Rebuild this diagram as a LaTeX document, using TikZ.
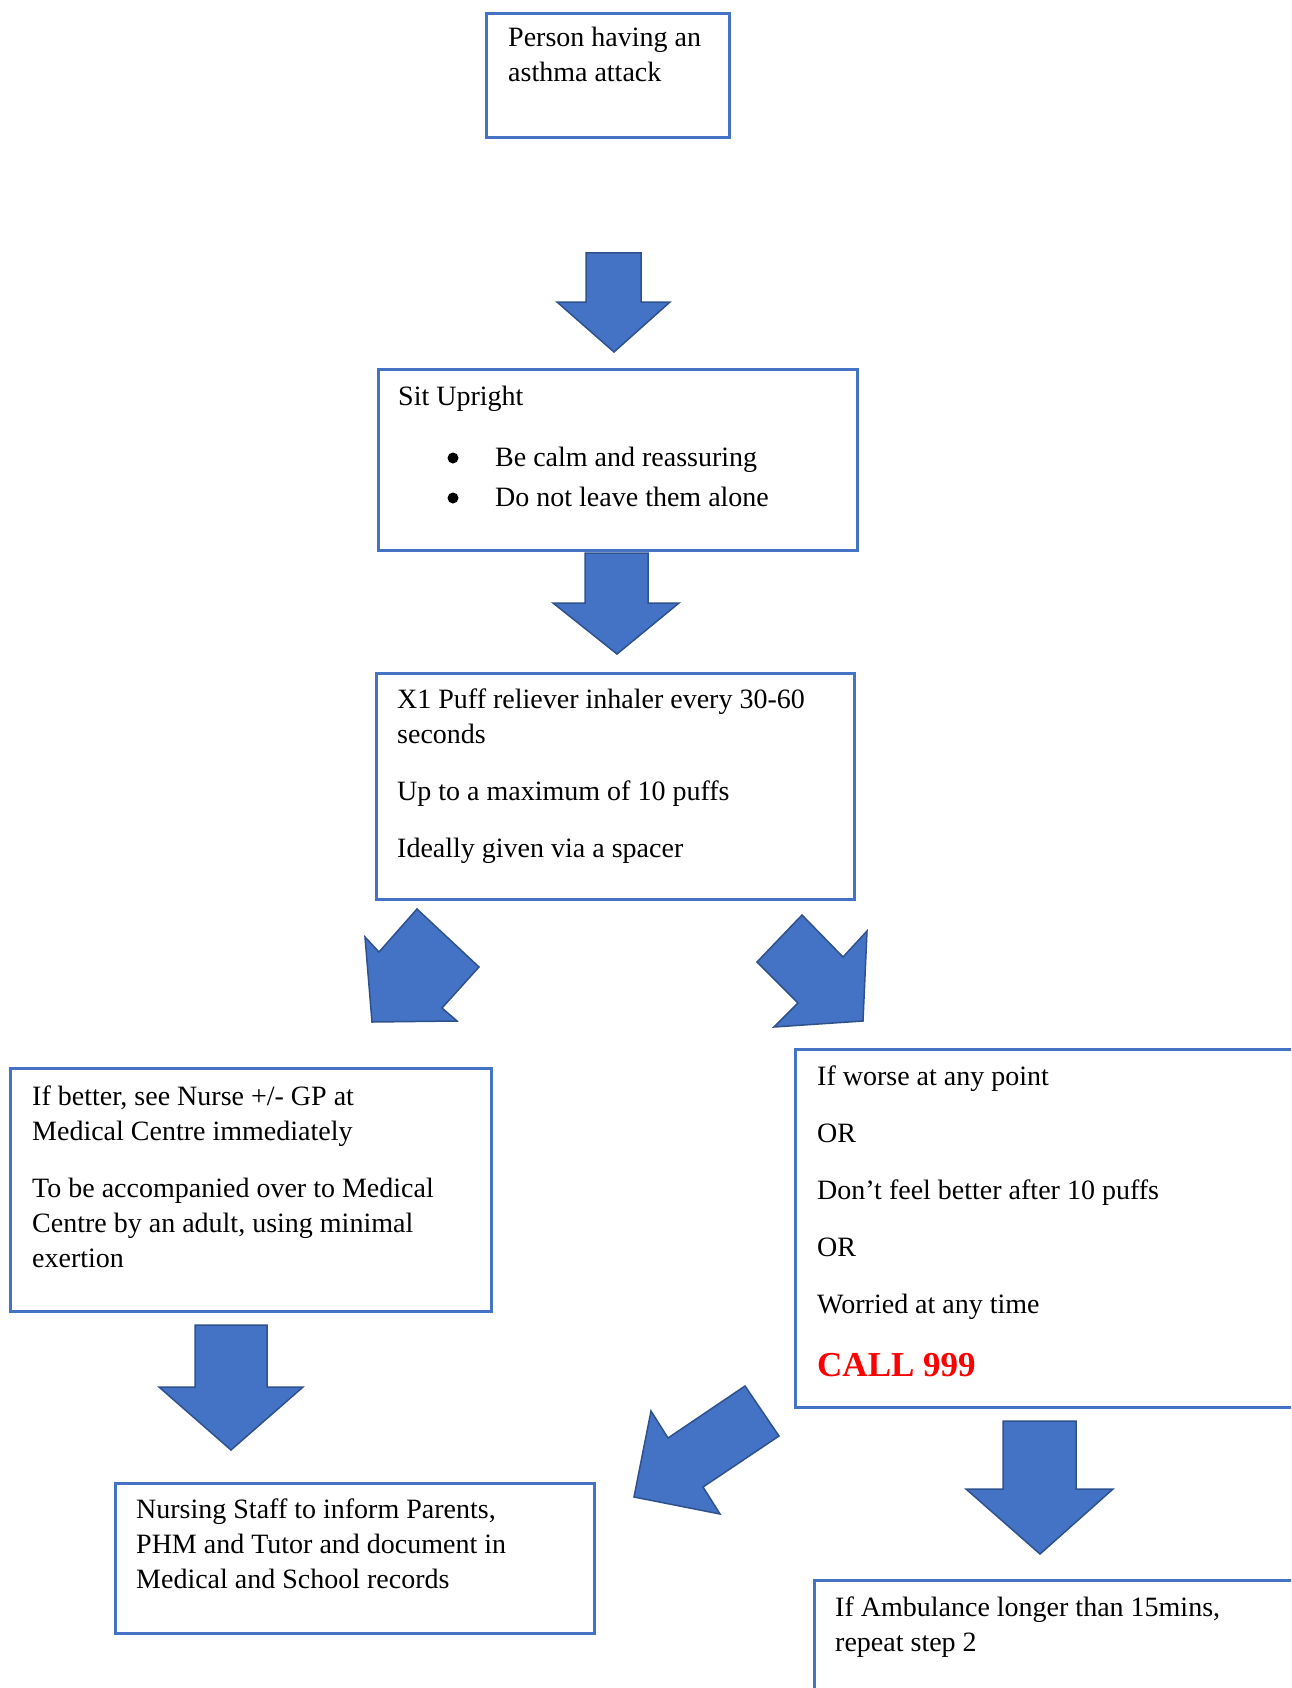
\documentclass[tikz,border=0pt]{standalone}
\usepackage{fontspec}
\setmainfont{Liberation Serif}
\usetikzlibrary{positioning}

\definecolor{boxblue}{HTML}{4472C4}
\definecolor{arrowedge}{HTML}{2F528F}
\definecolor{callred}{HTML}{FF0000}

\tikzset{
  stepbox/.style={draw=boxblue, line width=3pt, fill=white, inner sep=0pt, anchor=north west},
  steptext/.style={anchor=base west, align=left, inner sep=0pt, font=\fontsize{28}{35}\selectfont},
  blockarrow/.style={fill=boxblue, draw=arrowedge, line width=1.5pt, line join=miter},
  bulletdot/.style={circle, fill=black, inner sep=0pt, minimum size=11pt},
}

\begin{document}
\begin{tikzpicture}[x=1pt,y=-1pt]
  \useasboundingbox (0,0) rectangle (1291,1688);
  \clip (0,0) rectangle (1291,1688);
  \fill[white] (0,0) rectangle (1291,1688);

  % Step boxes
  \node[stepbox, minimum width=243, minimum height=124] (attack) at (485,12) {};
  \node[stepbox, minimum width=479, minimum height=181] (upright) at (377,368) {};
  \node[stepbox, minimum width=478, minimum height=226] (inhaler) at (375,672) {};
  \node[stepbox, minimum width=481, minimum height=243] (better) at (9,1067) {};
  \node[stepbox, minimum width=600, minimum height=358] (worse) at (794,1048) {};
  \node[stepbox, minimum width=479, minimum height=150] (inform) at (114,1482) {};
  \node[stepbox, minimum width=600, minimum height=200] (ambulance) at (813,1579) {};

  % Box texts (placed by the baseline of their last line)
  \node[steptext] (attacktext) at (508,82) {Person having an\\asthma attack};
  \node[steptext] (uprighttext) at (398,506) {Sit Upright\\[26pt]
    \hspace*{97pt}Be calm and reassuring\\[5pt]
    \hspace*{97pt}Do not leave them alone};
  \node[bulletdot] (bulleta) at (453,458) {};
  \node[bulletdot] (bulletb) at (453,498) {};
  \node[steptext] (inhalertext) at (397,857) {X1 Puff reliever inhaler every 30-60\\seconds\\[22pt]
    Up to a maximum of 10 puffs\\[22pt]Ideally given via a spacer};
  \node[steptext] (bettertext) at (32,1267) {If better, see Nurse +/- GP at\\Medical Centre immediately\\[22pt]
    To be accompanied over to Medical\\Centre by an adult, using minimal\\exertion};
  \node[steptext] (worsetext) at (817,1313) {If worse at any point\\[22pt]OR\\[22pt]
    Don’t feel better after 10 puffs\\[22pt]OR\\[22pt]Worried at any time};
  \node[steptext, font=\bfseries\fontsize{35}{42}\selectfont, text=callred] (call) at (817,1376) {CALL 999};
  \node[steptext] (informtext) at (136,1588) {Nursing Staff to inform Parents,\\PHM and Tutor and document in\\Medical and School records};
  \node[steptext] (ambulancetext) at (835,1651) {If Ambulance longer than 15mins,\\repeat step 2};

  % Block arrows
  \draw[blockarrow] (586,253) -- (641,253) -- (641,302) -- (670,302) -- (614,352) -- (557,302) -- (586,302) -- cycle;
  \draw[blockarrow] (585,553) -- (648,553) -- (648,603) -- (679,603) -- (617,654) -- (553,603) -- (585,603) -- cycle;
  \draw[blockarrow] (417,909) -- (479,967) -- (442,1008) -- (457,1021) -- (372,1022) -- (365,937) -- (379,952) -- cycle;
  \draw[blockarrow] (802,915) -- (843,957) -- (867,931) -- (863,1021) -- (774,1027) -- (798,1003) -- (757,962) -- cycle;
  \draw[blockarrow] (195,1325) -- (267,1325) -- (267,1387) -- (303,1387) -- (231,1450) -- (159,1387) -- (195,1387) -- cycle;
  \draw[blockarrow] (745,1386) -- (779,1436) -- (703,1487) -- (720,1514) -- (634,1497) -- (651,1411) -- (668,1438) -- cycle;
  \draw[blockarrow] (1003,1421) -- (1076,1421) -- (1076,1489) -- (1113,1489) -- (1040,1554) -- (966,1489) -- (1003,1489) -- cycle;
\end{tikzpicture}
\end{document}
